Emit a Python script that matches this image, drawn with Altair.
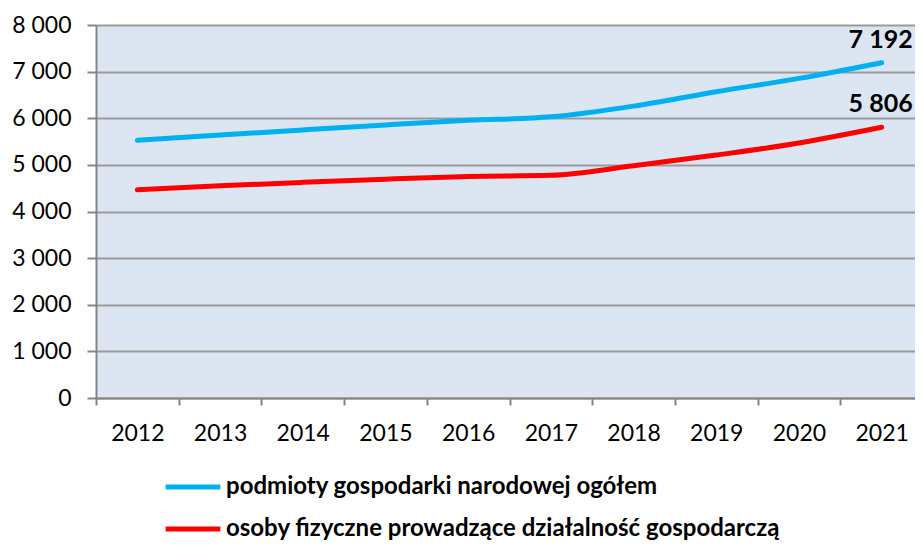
import altair as alt
import pandas as pd

years = ["2012", "2013", "2014", "2015", "2016", "2017", "2018", "2019", "2020", "2021"]
series_names = ["podmioty gospodarki narodowej ogółem",
                "osoby fizyczne prowadzące działalność gospodarczą"]
total = [5528, 5640, 5750, 5857, 5955, 6030, 6260, 6570, 6855, 7192]
persons = [4464, 4550, 4625, 4693, 4750, 4775, 4979, 5210, 5470, 5806]
colors = ["#00B0F0", "#FF0000"]

rows = []
for y, v in zip(years, total):
    rows.append({"year": y, "value": v, "series": series_names[0]})
for y, v in zip(years, persons):
    rows.append({"year": y, "value": v, "series": series_names[1]})
df = pd.DataFrame(rows)

FONT = "Lato"

x_enc = alt.X("year:O",
              scale=alt.Scale(type="band", paddingInner=0, paddingOuter=0, range=[0, 827]),
              axis=alt.Axis(title=None, labelAngle=0, tickBand="extent",
                            labelFontSize=23, labelFont=FONT, labelColor="#000000",
                            labelPadding=17, tickSize=7, tickColor="#868686",
                            domainColor="#868686", domainWidth=2, tickWidth=2,
                            grid=False))
y_enc = alt.Y("value:Q",
              scale=alt.Scale(domain=[0, 8000], nice=False),
              axis=alt.Axis(title=None, values=[0, 1000, 2000, 3000, 4000, 5000, 6000, 7000, 8000],
                            labelExpr="replace(format(datum.value, ','), ',', ' ')",
                            labelFontSize=23, labelFont=FONT, labelColor="#000000",
                            labelPadding=16, tickSize=9, tickColor="#868686", tickWidth=2,
                            domainColor="#868686", domainWidth=2,
                            grid=True, gridColor="#9A9A9A", gridWidth=2))

base = alt.Chart(df)

lines = base.mark_line(strokeWidth=5, interpolate="monotone", strokeCap="round").encode(
    x=x_enc,
    y=y_enc,
    color=alt.Color("series:N",
                    scale=alt.Scale(domain=series_names, range=colors),
                    legend=alt.Legend(title=None, orient="none", legendX=67, legendY=432,
                                      direction="vertical", symbolType="stroke",
                                      symbolSize=3000, symbolStrokeWidth=5,
                                      labelFont=FONT, labelFontSize=24, labelFontWeight="bold",
                                      labelColor="#000000", labelOffset=3, rowPadding=-17,
                                      labelLimit=800)),
)

labels = base.transform_filter(alt.datum.year == "2021").transform_calculate(
    lbl="replace(format(datum.value, ','), ',', ' ')"
).mark_text(font=FONT, fontSize=25, fontWeight="bold", color="#000000",
            align="right", baseline="bottom", dx=31, dy=-10).encode(
    x=alt.X("year:O"),
    y=alt.Y("value:Q"),
    text="lbl:N",
)

chart = alt.layer(lines, labels).properties(
    width=819, height=373,
    autosize=alt.AutoSizeParams(type="none"),
    padding={"left": 88, "top": 17, "right": 0, "bottom": 142},
).configure_view(fill="#DCE6F2", stroke=None)

chart.save("out.html", embed_options={"renderer": "svg", "actions": False})
